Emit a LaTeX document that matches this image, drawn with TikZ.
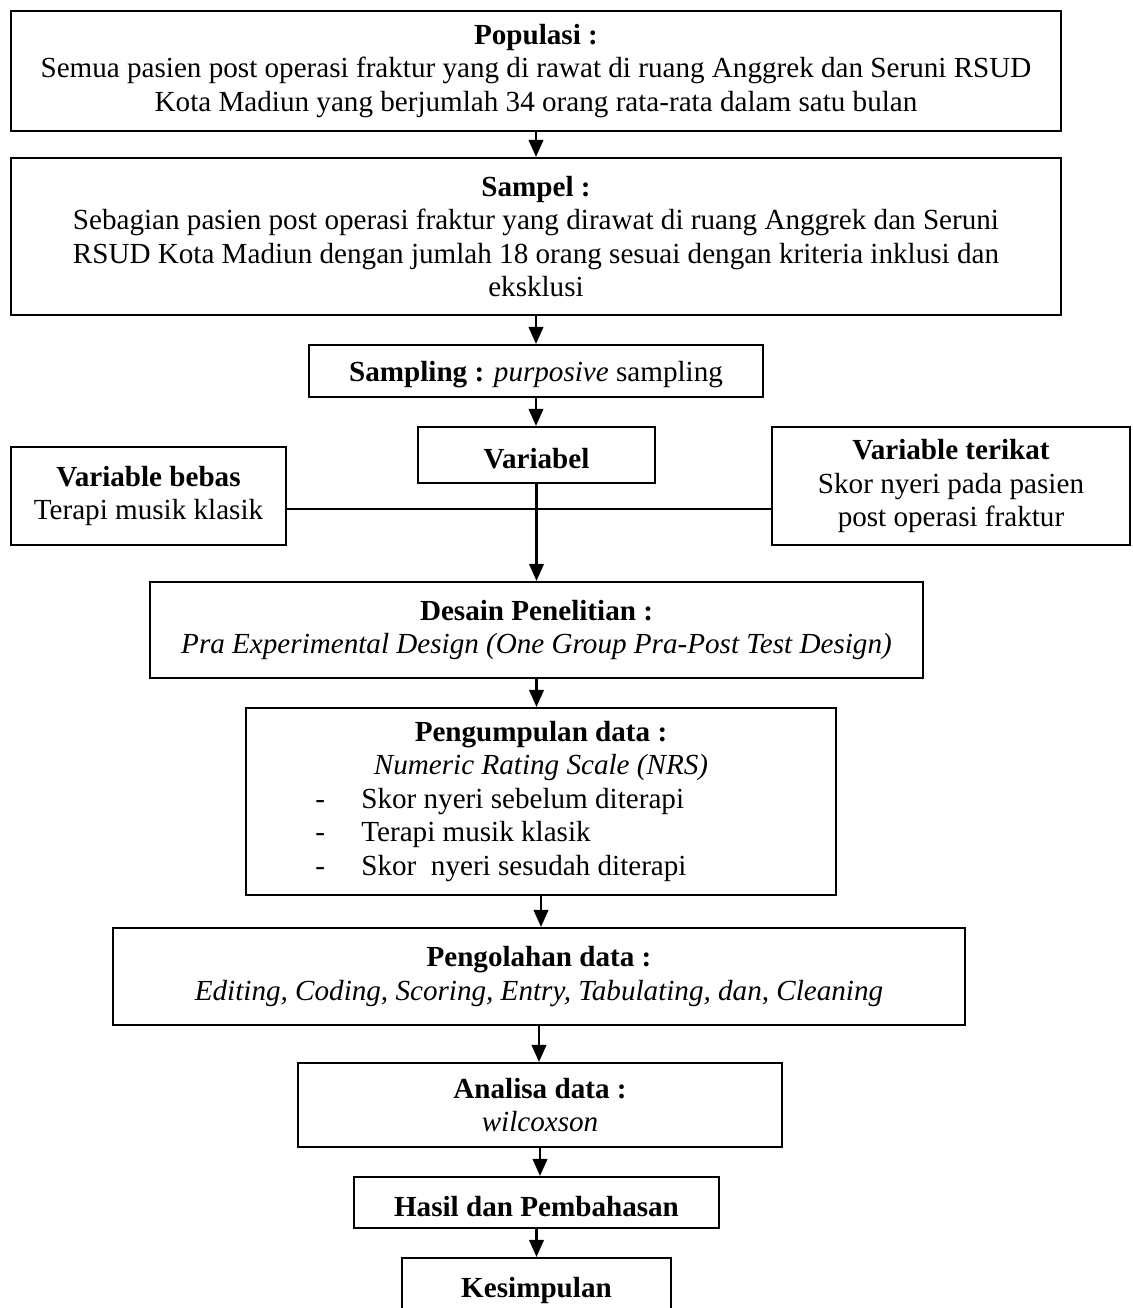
\documentclass[tikz,border=0pt]{standalone}
\usepackage{fontspec}
\setmainfont{Liberation Serif}
\usetikzlibrary{arrows.meta}

\newcommand{\butir}[1]{\makebox[186pt][l]{\makebox[19pt][l]{-}#1}}

\tikzset{
  kotak/.style={draw, line width=0.9pt, align=center, inner sep=2pt,
    font=\fontsize{12}{13.8}\selectfont,
    execute at begin node={\rule{0pt}{11.3pt}}},
  panah/.style={line width=0.9pt, -{Triangle[length=7pt,width=6pt]}},
  garis/.style={line width=0.9pt}
}

\begin{document}
\begin{tikzpicture}[x=0.412pt, y=-0.412pt]
  \useasboundingbox (0,0) rectangle (1133,1308);

  % Populasi dan sampel
  \node[kotak, minimum width=1050*0.412pt, minimum height=120*0.412pt] (populasi) at (536,71)
    {\textbf{Populasi :}\\
     Semua pasien post operasi fraktur yang di rawat di ruang Anggrek dan Seruni RSUD\\
     Kota Madiun yang berjumlah 34 orang rata-rata dalam satu bulan};
  \node[kotak, minimum width=1050*0.412pt, minimum height=157*0.412pt] (sampel) at (536,236.5)
    {\textbf{Sampel :}\\
     Sebagian pasien post operasi fraktur yang dirawat di ruang Anggrek dan Seruni\\
     RSUD Kota Madiun dengan jumlah 18 orang sesuai dengan kriteria inklusi dan\\
     eksklusi};
  \node[kotak, minimum width=454*0.412pt, minimum height=52*0.412pt] (sampling) at (536,371)
    {\textbf{Sampling :} \textit{purposive} sampling};

  % Variabel
  \node[kotak, minimum width=237*0.412pt, minimum height=56*0.412pt] (variabel) at (536.5,455)
    {\textbf{Variabel}};
  \node[kotak, minimum width=275*0.412pt, minimum height=98*0.412pt] (bebas) at (148.5,496)
    {\textbf{Variable bebas}\\ Terapi musik klasik};
  \node[kotak, minimum width=358*0.412pt, minimum height=118*0.412pt] (terikat) at (951,486)
    {\textbf{Variable terikat}\\ Skor nyeri pada pasien\\ post operasi fraktur};

  % Desain dan pengumpulan data
  \node[kotak, minimum width=773*0.412pt, minimum height=96*0.412pt] (desain) at (536.5,630)
    {\textbf{Desain Penelitian :}\\
     \textit{Pra Experimental Design (One Group Pra-Post Test Design)}};
  \node[kotak, minimum width=590*0.412pt, minimum height=187*0.412pt] (kumpul) at (541,801.5)
    {\textbf{Pengumpulan data :}\\
     \textit{Numeric Rating Scale (NRS)}\\
     \butir{Skor nyeri sebelum diterapi}\\
     \butir{Terapi musik klasik}\\
     \butir{Skor\ \ nyeri sesudah diterapi}};

  % Pengolahan, analisa, hasil
  \node[kotak, minimum width=852*0.412pt, minimum height=97*0.412pt] (olah) at (539,976.5)
    {\textbf{Pengolahan data :}\\
     \textit{Editing, Coding, Scoring, Entry, Tabulating, dan, Cleaning}};
  \node[kotak, minimum width=484*0.412pt, minimum height=84*0.412pt] (analisa) at (540,1105)
    {\textbf{Analisa data :}\\ \textit{wilcoxson}};
  \node[kotak, minimum width=365*0.412pt, minimum height=51*0.412pt] (hasil) at (536.5,1202.5)
    {\textbf{Hasil dan Pembahasan}};
  \node[kotak, minimum width=269*0.412pt, minimum height=58*0.412pt] (simpul) at (536.5,1287)
    {\textbf{Kesimpulan}};

  % Panah
  \draw[panah] (populasi.south) -- (populasi.south |- sampel.north);
  \draw[panah] (sampel.south) -- (sampel.south |- sampling.north);
  \draw[panah] (sampling.south) -- (sampling.south |- variabel.north);
  \draw[panah] (variabel.south) -- (variabel.south |- desain.north);
  \draw[panah] (desain.south) -- (desain.south |- kumpul.north);
  \draw[panah] (kumpul.south) -- (kumpul.south |- olah.north);
  \draw[panah] (olah.south) -- (olah.south |- analisa.north);
  \draw[panah] (analisa.south) -- (analisa.south |- hasil.north);
  \draw[panah] (hasil.south) -- (hasil.south |- simpul.north);

  % Garis variabel bebas - terikat
  \coordinate (temu) at (536.5,509);
  \draw[garis] (bebas.east |- temu) -- (terikat.west |- temu);
\end{tikzpicture}
\end{document}
